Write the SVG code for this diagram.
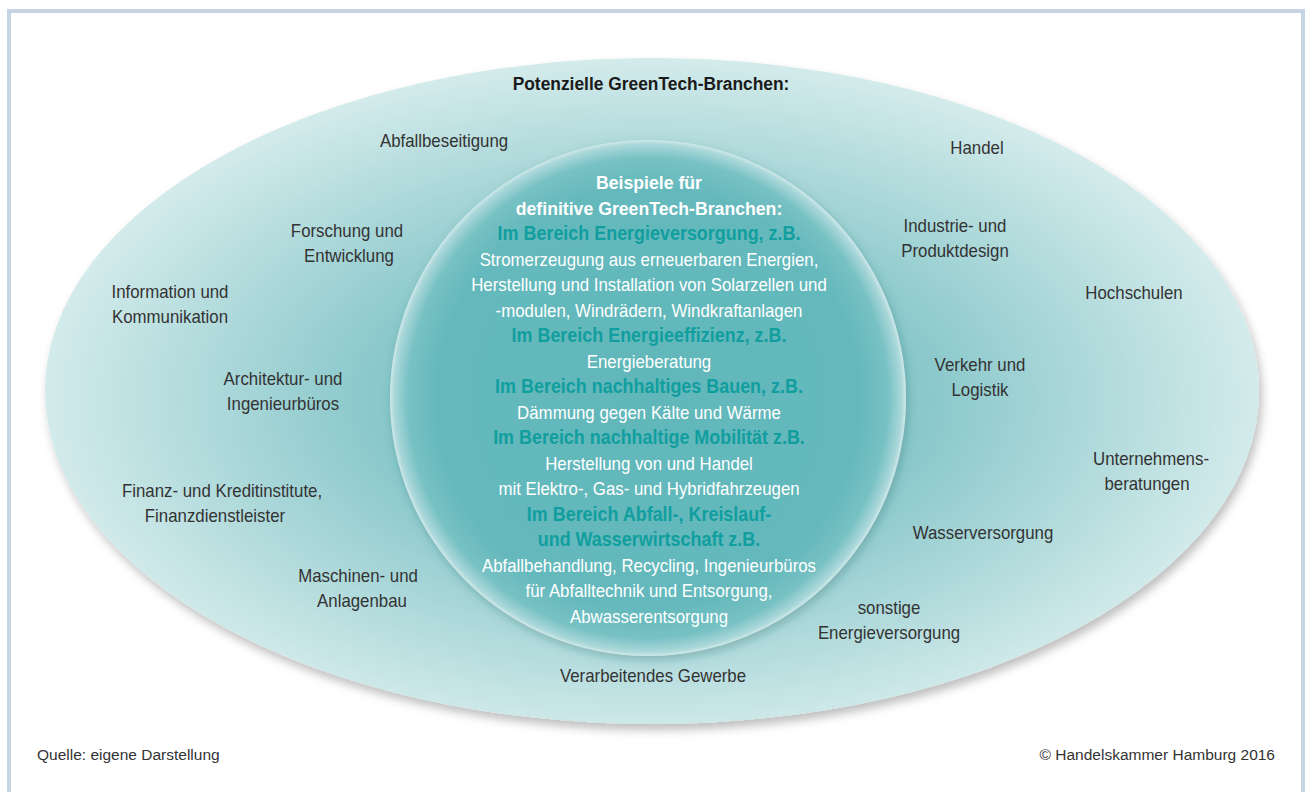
<svg xmlns="http://www.w3.org/2000/svg" width="1306" height="792" viewBox="0 0 1306 792">
  <defs>
    <radialGradient id="outerGrad" cx="650" cy="400" r="620" gradientUnits="userSpaceOnUse" gradientTransform="translate(650 400) scale(1 0.56) translate(-650 -400)">
      <stop offset="0" stop-color="#6fbcbf"/>
      <stop offset="0.45" stop-color="#8ac8cb"/>
      <stop offset="1" stop-color="#d6ecec"/>
    </radialGradient>
    <radialGradient id="innerGrad" cx="0.5" cy="0.5" r="0.5">
      <stop offset="0" stop-color="#61b7ba"/>
      <stop offset="0.82" stop-color="#65b9bc"/>
      <stop offset="0.93" stop-color="#77c1c4"/>
      <stop offset="0.985" stop-color="#acd8da"/>
      <stop offset="1" stop-color="#d0e9ea"/>
    </radialGradient>
    <filter id="shadow" x="-10%" y="-10%" width="120%" height="125%">
      <feDropShadow dx="3" dy="6" stdDeviation="5" flood-color="#000" flood-opacity="0.25"/>
    </filter>
    <filter id="shadowInner" x="-10%" y="-10%" width="120%" height="125%">
      <feDropShadow dx="2" dy="4" stdDeviation="5" flood-color="#1d5f61" flood-opacity="0.3"/>
    </filter>
  </defs>
  <style>
    text { font-family: "Liberation Sans", Arial, sans-serif; text-anchor: middle; }
    .lbl { font-size: 18.3px; fill: #333333; }
    .title { font-size: 18.9px; font-weight: bold; fill: #1a1a1a; }
    .wh { font-size: 18.3px; fill: #ffffff; }
    .whb { font-size: 19.2px; fill: #ffffff; font-weight: bold; }
    .hd { font-size: 19.5px; fill: #119e9f; font-weight: bold; }
    .foot { font-size: 15.5px; fill: #333333; }
  </style>

  <rect id="frame" x="9" y="11" width="1294" height="800" fill="#ffffff" stroke="#c6d4e4" stroke-width="4"/>

  <g id="outer-ellipse">
    <ellipse cx="652" cy="391" rx="607" ry="333" fill="url(#outerGrad)" filter="url(#shadow)"/>
    <text class="title" transform="translate(651 90) scale(0.92 1)">Potenzielle GreenTech-Branchen:</text>
  </g>

  <g id="inner-circle">
    <circle cx="648" cy="398" r="258" fill="url(#innerGrad)" filter="url(#shadowInner)"/>
    <text class="whb" transform="translate(649 189) scale(0.92 1)">Beispiele für</text>
    <text class="whb" transform="translate(649 214.5) scale(0.92 1)">definitive GreenTech-Branchen:</text>
    <text class="hd" transform="translate(649 240) scale(0.92 1)">Im Bereich Energieversorgung, z.B.</text>
    <text class="wh" transform="translate(649 265.5) scale(0.92 1)">Stromerzeugung aus erneuerbaren Energien,</text>
    <text class="wh" transform="translate(649 291) scale(0.92 1)">Herstellung und Installation von Solarzellen und</text>
    <text class="wh" transform="translate(649 316.5) scale(0.92 1)">-modulen, Windrädern, Windkraftanlagen</text>
    <text class="hd" transform="translate(649 342) scale(0.92 1)">Im Bereich Energieeffizienz, z.B.</text>
    <text class="wh" transform="translate(649 367.5) scale(0.92 1)">Energieberatung</text>
    <text class="hd" transform="translate(649 393) scale(0.92 1)">Im Bereich nachhaltiges Bauen, z.B.</text>
    <text class="wh" transform="translate(649 418.5) scale(0.92 1)">Dämmung gegen Kälte und Wärme</text>
    <text class="hd" transform="translate(649 444) scale(0.92 1)">Im Bereich nachhaltige Mobilität z.B.</text>
    <text class="wh" transform="translate(649 469.5) scale(0.92 1)">Herstellung von und Handel</text>
    <text class="wh" transform="translate(649 495) scale(0.92 1)">mit Elektro-, Gas- und Hybridfahrzeugen</text>
    <text class="hd" transform="translate(649 520.5) scale(0.92 1)">Im Bereich Abfall-, Kreislauf-</text>
    <text class="hd" transform="translate(649 546) scale(0.92 1)">und Wasserwirtschaft z.B.</text>
    <text class="wh" transform="translate(649 571.5) scale(0.92 1)">Abfallbehandlung, Recycling, Ingenieurbüros</text>
    <text class="wh" transform="translate(649 597) scale(0.92 1)">für Abfalltechnik und Entsorgung,</text>
    <text class="wh" transform="translate(649 622.5) scale(0.92 1)">Abwasserentsorgung</text>
  </g>

  <g id="connectors"/>

  <g id="abfallbeseitigung"><text class="lbl" transform="translate(444 147) scale(0.92 1)">Abfallbeseitigung</text></g>
  <g id="handel"><text class="lbl" transform="translate(977 154) scale(0.92 1)">Handel</text></g>
  <g id="forschung"><text class="lbl" transform="translate(347 237) scale(0.92 1)">Forschung und</text><text class="lbl" transform="translate(349 262) scale(0.92 1)">Entwicklung</text></g>
  <g id="industriedesign"><text class="lbl" transform="translate(955 232) scale(0.92 1)">Industrie- und</text><text class="lbl" transform="translate(955 257) scale(0.92 1)">Produktdesign</text></g>
  <g id="information"><text class="lbl" transform="translate(170 298) scale(0.92 1)">Information und</text><text class="lbl" transform="translate(170 323) scale(0.92 1)">Kommunikation</text></g>
  <g id="hochschulen"><text class="lbl" transform="translate(1134 299) scale(0.92 1)">Hochschulen</text></g>
  <g id="architektur"><text class="lbl" transform="translate(283 385) scale(0.92 1)">Architektur- und</text><text class="lbl" transform="translate(283 410) scale(0.92 1)">Ingenieurbüros</text></g>
  <g id="verkehr"><text class="lbl" transform="translate(980 371) scale(0.92 1)">Verkehr und</text><text class="lbl" transform="translate(980 396) scale(0.92 1)">Logistik</text></g>
  <g id="finanz"><text class="lbl" transform="translate(222 497) scale(0.92 1)">Finanz- und Kreditinstitute,</text><text class="lbl" transform="translate(215 522) scale(0.92 1)">Finanzdienstleister</text></g>
  <g id="unternehmensberatungen"><text class="lbl" transform="translate(1151 465) scale(0.92 1)">Unternehmens-</text><text class="lbl" transform="translate(1147 490) scale(0.92 1)">beratungen</text></g>
  <g id="wasserversorgung"><text class="lbl" transform="translate(983 539) scale(0.92 1)">Wasserversorgung</text></g>
  <g id="maschinenbau"><text class="lbl" transform="translate(358 582) scale(0.92 1)">Maschinen- und</text><text class="lbl" transform="translate(362 607) scale(0.92 1)">Anlagenbau</text></g>
  <g id="sonstige"><text class="lbl" transform="translate(889 614) scale(0.92 1)">sonstige</text><text class="lbl" transform="translate(889 639) scale(0.92 1)">Energieversorgung</text></g>
  <g id="verarbeitendes"><text class="lbl" transform="translate(653 682) scale(0.92 1)">Verarbeitendes Gewerbe</text></g>

  <g id="footer">
    <text class="foot" x="37" y="760" style="text-anchor:start">Quelle: eigene Darstellung</text>
    <text class="foot" x="1275" y="760" style="text-anchor:end">© Handelskammer Hamburg 2016</text>
  </g>
</svg>
